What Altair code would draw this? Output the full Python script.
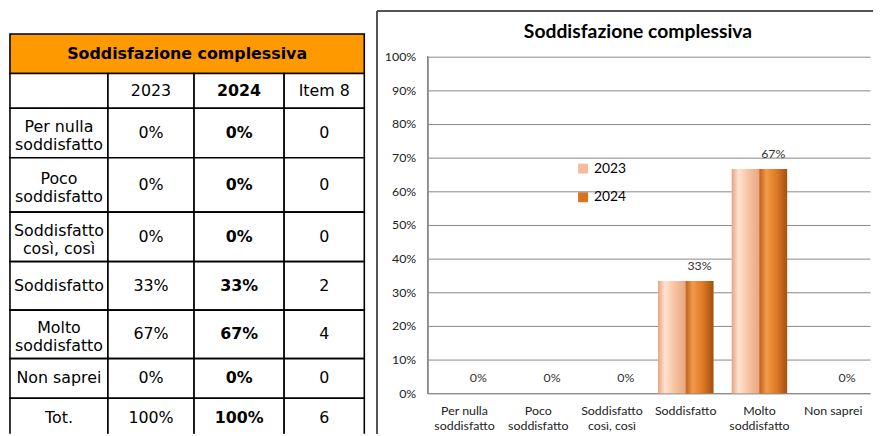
import altair as alt
import pandas as pd

# ---------------- data ----------------
title_text = "Soddisfazione complessiva"
categories = ["Per nulla\nsoddisfatto", "Poco\nsoddisfatto", "Soddisfatto\ncosì, così",
              "Soddisfatto", "Molto\nsoddisfatto", "Non saprei"]
series = ["2023", "2024"]
values_2023 = [0.0, 0.0, 0.0, 0.3333, 0.6667, 0.0]
values_2024 = [0.0, 0.0, 0.0, 0.3333, 0.6667, 0.0]
y_ticks = [0.0, 0.1, 0.2, 0.3, 0.4, 0.5, 0.6, 0.7, 0.8, 0.9, 1.0]

column_headers = ["", "2023", "2024", "Item 8"]
row_labels = ["Per nulla\nsoddisfatto", "Poco\nsoddisfatto", "Soddisfatto\ncosì, così",
              "Soddisfatto", "Molto\nsoddisfatto", "Non saprei", "Tot."]
table_2023 = ["0%", "0%", "0%", "33%", "67%", "0%", "100%"]
table_2024 = ["0%", "0%", "0%", "33%", "67%", "0%", "100%"]
table_item8 = ["0", "0", "0", "2", "4", "0", "6"]

# ---------------- table layout ----------------
W1, H1 = 364, 428
LINE_H = 18
col_widths = [99, 87, 91, 81]
row_heights = [40, 35, 50, 55, 50, 49, 49, 40, 40]
col_edges = [2]
for w in col_widths:
    col_edges.append(col_edges[-1] + w)
row_edges = [24]
for h in row_heights:
    row_edges.append(row_edges[-1] + h)

cells = [dict(x=col_edges[0], x2=col_edges[-1], y=row_edges[0], y2=row_edges[1],
              text=title_text, bold=True, fill="#FF9900")]
for c, h in enumerate(column_headers):
    cells.append(dict(x=col_edges[c], x2=col_edges[c + 1], y=row_edges[1], y2=row_edges[2],
                      text=h, bold=(c == 2), fill="#FFFFFF"))
for r in range(len(row_labels)):
    vals = [row_labels[r], table_2023[r], table_2024[r], table_item8[r]]
    for c in range(4):
        cells.append(dict(x=col_edges[c], x2=col_edges[c + 1], y=row_edges[r + 2], y2=row_edges[r + 3],
                          text=vals[c], bold=(c == 2), fill="#FFFFFF"))
tdf = pd.DataFrame(cells)
tdf["xm"] = (tdf["x"] + tdf["x2"]) / 2
nlines = tdf["text"].str.count("\n")
tdf["ym"] = (tdf["y"] + tdf["y2"]) / 2 - nlines * (LINE_H / 2 - 3)

xs = alt.Scale(domain=[0, W1], nice=False, zero=False)
ys = alt.Scale(domain=[0, H1], nice=False, zero=False, reverse=True)

tbase = alt.Chart(tdf)
t_rect = tbase.mark_rect(stroke="#000000", strokeWidth=1.6, clip=True).encode(
    x=alt.X("x:Q", scale=xs, axis=None), x2="x2:Q",
    y=alt.Y("y:Q", scale=ys, axis=None), y2="y2:Q",
    fill=alt.Fill("fill:N", scale=None),
)
text_props = dict(font="DejaVu Sans", fontSize=16, color="#000000", align="center",
                  baseline="middle", lineBreak="\n", lineHeight=LINE_H, clip=True)
t_text = tbase.transform_filter("!datum.bold").mark_text(**text_props).encode(
    x=alt.X("xm:Q", scale=xs, axis=None), y=alt.Y("ym:Q", scale=ys, axis=None), text="text:N")
t_bold = tbase.transform_filter("datum.bold").mark_text(fontWeight="bold", **text_props).encode(
    x=alt.X("xm:Q", scale=xs, axis=None), y=alt.Y("ym:Q", scale=ys, axis=None), text="text:N")
table = alt.layer(t_rect, t_text, t_bold).properties(width=W1, height=H1)

# ---------------- bar chart ----------------
SPACING = 60
W2, H2 = 447, 387
ymax = H2 / 340.0
bdf = pd.DataFrame(
    [dict(category=c, series="2023", value=v) for c, v in zip(categories, values_2023)]
    + [dict(category=c, series="2024", value=v) for c, v in zip(categories, values_2024)]
)

x_axis = alt.Axis(title=None, labelExpr="split(datum.label, '\\n')", ticks=False,
                  domainColor="#888888", labelFont="Lato", labelFontSize=12.5,
                  labelColor="#222222", labelPadding=12, labelAngle=0,
                  labelBaseline="top", labelLineHeight=15)
y_axis = alt.Axis(title=None, values=y_ticks, format=".0%", domain=False, ticks=False,
                  gridColor="#888888", gridWidth=1, labelFont="Lato", labelFontSize=12.5,
                  labelColor="#222222", labelPadding=12, labelOverlap=False)
y_scale = alt.Scale(domain=[0, ymax], nice=False)

x_enc = alt.X("category:N", sort=categories,
              scale=alt.Scale(paddingInner=0.25, paddingOuter=0.125), axis=x_axis)
y_enc = alt.Y("value:Q", scale=y_scale, axis=y_axis)
xo_enc = alt.XOffset("series:N", scale=alt.Scale(domain=series, paddingInner=0, paddingOuter=0))

bbase = alt.Chart(bdf)
legend_bars = bbase.mark_bar().encode(
    x=x_enc, y=y_enc, xOffset=xo_enc,
    color=alt.Color("series:N",
                    scale=alt.Scale(domain=series, range=["#F4BC9A", "#D9731E"]),
                    legend=alt.Legend(title=None, orient="none", legendX=W1 + SPACING + 150,
                                      legendY=153,
                                      symbolType="square", symbolSize=100, symbolStrokeWidth=0,
                                      labelFont="Lato", labelFontSize=14, labelColor="#000000",
                                      rowPadding=15, padding=0, labelOffset=4)),
)

grad_2023 = alt.LinearGradient(gradient="linear", x1=0, x2=1, y1=0, y2=0, stops=[
    alt.GradientStop(offset=0, color="#E6A582"),
    alt.GradientStop(offset=0.25, color="#FFE3D0"),
    alt.GradientStop(offset=0.55, color="#F9C6A6"),
    alt.GradientStop(offset=1, color="#E9A682"),
])
grad_2024 = alt.LinearGradient(gradient="linear", x1=0, x2=1, y1=0, y2=0, stops=[
    alt.GradientStop(offset=0, color="#BE611A"),
    alt.GradientStop(offset=0.25, color="#F29A4A"),
    alt.GradientStop(offset=0.6, color="#DE7C28"),
    alt.GradientStop(offset=1, color="#A4500F"),
])
bars_2023 = bbase.transform_filter("datum.series == '2023'").mark_bar(color=grad_2023).encode(
    x=x_enc, y=y_enc, xOffset=xo_enc)
bars_2024 = bbase.transform_filter("datum.series == '2024'").mark_bar(color=grad_2024).encode(
    x=x_enc, y=y_enc, xOffset=xo_enc)
labels = bbase.transform_filter("datum.series == '2024'").mark_text(
    font="Lato", fontSize=12.5, color="#333333", baseline="bottom", dy=-8).encode(
    x=x_enc, y=y_enc, xOffset=xo_enc, text=alt.Text("value:Q", format=".0%"))
y_line = alt.Chart(bdf).mark_rule(color="#888888").encode(
    x=alt.value(0), y=alt.YDatum(0, scale=y_scale, axis=y_axis), y2=alt.Y2Datum(1.0))
frame_left = alt.Chart(bdf).mark_rule(color="#555555", strokeWidth=1.5).encode(
    x=alt.value(-51), y=alt.value(1), y2=alt.value(428))
frame_top = alt.Chart(bdf).mark_rule(color="#555555", strokeWidth=1.5).encode(
    x=alt.value(-51), x2=alt.value(874 - W1 - SPACING), y=alt.value(1))

bars = alt.layer(legend_bars, bars_2023, bars_2024, labels, y_line, frame_left, frame_top).properties(
    width=W2, height=H2,
    title=alt.TitleParams(title_text, font="Lato", fontSize=19.5, fontWeight="bold", color="#000000",
                          offset=-33, dx=-11, anchor="middle"),
)

chart = alt.hconcat(table, bars, spacing=SPACING, bounds="flush").properties(
    padding=0, background="#FFFFFF"
).configure_view(strokeWidth=0)

chart.save("out.html", embed_options={"renderer": "svg", "actions": False})
